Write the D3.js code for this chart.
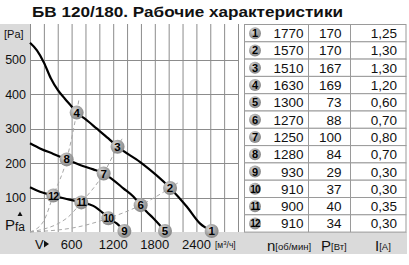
<!DOCTYPE html>
<html><head><meta charset="utf-8">
<script src="https://cdn.jsdelivr.net/npm/d3@7"></script>
<style>
html,body{margin:0;padding:0;background:#fff;}
svg{display:block;font-family:"Liberation Sans",Arial,sans-serif;}
</style></head>
<body>
<svg id="c" width="409" height="265"></svg>
<script>
// ---- data ----
const title = "БВ 120/180. Рабочие характеристики";
const pointIds = [1,2,3,4,5,6,7,8,9,10,11,12];
const pointV = [2620, 2020, 1263, 673, 1947, 1596, 1062, 529, 1361, 1130, 740, 336];
const pointP = [3, 128, 248, 347, 3, 78, 170, 211, 3, 40, 86, 106];
const nRpm = [1770,1570,1510,1630,1300,1270,1250,1280,930,910,900,910];
const powerW = [170,170,167,169,73,88,100,84,29,37,40,34];
const currentA = ["1,25","1,30","1,30","1,20","0,60","0,70","0,80","0,70","0,30","0,30","0,35","0,30"];

const highV = [0,100,200,300,400,500,600,673,800,960,1130,1263,1590,2020,2260,2450,2620];
const highP = [550,528,493,447,413,388,365,347,328,301,272,248,203,128,74,25,3];
const midV = [0,144,337,529,721,913,1062,1202,1346,1490,1596,1683,1779,1947];
const midP = [258,243,227,211,195,182,170,151,127,103,78,59,40,3];
const lowV = [0,144,336,529,740,913,1058,1130,1250,1361];
const lowP = [130,117,106,96,86,76,54,40,25,3];

const sysAV = [0,192,336,529,673,710];
const sysAP = [0,30,106,211,347,390];
const sysBV = [0,529,740,1062,1263,1346];
const sysBP = [0,40,86,170,248,277];
const sysCV = [0,720,1130,1596,2020,2150];
const sysCP = [0,16,40,78,128,145];

const xTicks = [600,1200,1800,2400];
const yTicks = [100,200,300,400,500];
const xGrid = d3.range(0,3001,200);
const yGrid = [100,200,300,400,500];

// ---- layout ----
const svg = d3.select("#c");
const L=30, R=238, T=24, B=232;
const x = d3.scaleLinear().domain([0,3000]).range([L,R]);
const y = d3.scaleLinear().domain([0,604.6]).range([B,T]);

const defs = svg.append("defs");
const g1 = defs.append("radialGradient").attr("id","ball").attr("cx","38%").attr("cy","35%").attr("r","65%");
g1.append("stop").attr("offset","0%").attr("stop-color","#dedede");
g1.append("stop").attr("offset","55%").attr("stop-color","#a6a6a6");
g1.append("stop").attr("offset","100%").attr("stop-color","#8a8a8a");

svg.append("rect").attr("width",409).attr("height",265).attr("fill","#fff");
// gray bands
const gray = "#dadada";
svg.append("rect").attr("x",0).attr("y",T).attr("width",L).attr("height",B-T).attr("fill",gray);
svg.append("rect").attr("x",0).attr("y",B).attr("width",407).attr("height",22).attr("fill",gray);
svg.append("rect").attr("x",L).attr("y",T).attr("width",R-L).attr("height",B-T).attr("fill","#fff");

// title
svg.append("text").attr("x",32).attr("y",17).attr("font-size",14).attr("font-weight","bold").attr("fill","#111")
  .attr("textLength",311).attr("lengthAdjust","spacingAndGlyphs").text(title);

// grid
svg.append("g").selectAll("line").data(xGrid).join("line")
  .attr("x1",d=>x(d)+0.5).attr("x2",d=>x(d)+0.5).attr("y1",T).attr("y2",B)
  .attr("stroke","#8c8c8c").attr("stroke-width",1);
svg.append("g").selectAll("line").data(yGrid).join("line")
  .attr("y1",d=>Math.round(y(d))+0.5).attr("y2",d=>Math.round(y(d))+0.5).attr("x1",L).attr("x2",R)
  .attr("stroke","#8c8c8c").attr("stroke-width",1);

// axis labels
svg.append("g").selectAll("text").data(yTicks).join("text")
  .attr("x",26).attr("y",d=>y(d)+4.5).attr("text-anchor","end").attr("font-size",12.5).attr("fill","#111").text(d=>d);
svg.append("text").attr("x",4).attr("y",38).attr("font-size",11).attr("fill","#111").text("[Pa]");
svg.append("g").selectAll("text").data(xTicks).join("text")
  .attr("x",d=>x(d)).attr("y",249).attr("text-anchor","middle").attr("font-size",13).attr("fill","#111").text(d=>d);
svg.append("text").attr("x",35).attr("y",249).attr("font-size",13).attr("fill","#111").text("V");
svg.append("path").attr("d","M44,240.5 L49,244 L44,247.5 Z").attr("fill","#111");
const mt = svg.append("text").attr("x",215).attr("y",248).attr("font-size",8.5).attr("fill","#111");
mt.append("tspan").text("[м");
mt.append("tspan").attr("font-size",6).attr("dy",-3).text("3");
mt.append("tspan").attr("dy",3).text("/ч]");
const pf = svg.append("text").attr("x",5).attr("y",230).attr("font-size",15).attr("fill","#111");
pf.append("tspan").text("P");
pf.append("tspan").attr("font-size",12).attr("dy",1).text("fa");
svg.append("path").attr("d","M17.5,216 L20,211.5 L22.5,216 Z").attr("fill","#111");

// system curves (dashed)
const line = d3.line().x(d=>x(d[0])).y(d=>y(d[1])).curve(d3.curveMonotoneX);
const sys = [d3.zip(sysAV,sysAP), d3.zip(sysBV,sysBP), d3.zip(sysCV,sysCP)];
svg.append("g").selectAll("path").data(sys).join("path")
  .attr("d",line).attr("fill","none").attr("stroke","#a8a8a8").attr("stroke-width",1).attr("stroke-dasharray","4,3");

// fan curves
const curves = [d3.zip(highV,highP), d3.zip(midV,midP), d3.zip(lowV,lowP)];
svg.append("g").selectAll("path").data(curves).join("path")
  .attr("d",line).attr("fill","none").attr("stroke","#000").attr("stroke-width",2.2).attr("stroke-linejoin","round");

// markers
const pts = pointIds.map((id,i)=>({id, v:pointV[i], p:pointP[i]}));
const mg = svg.append("g").selectAll("g").data(pts).join("g")
  .attr("transform",d=>`translate(${x(d.v)},${y(d.p)})`);
mg.append("circle").attr("r",7).attr("fill","url(#ball)");
mg.append("text").attr("text-anchor","middle").attr("y",4)
  .attr("font-size",d=>d.id>9?10.5:11.5).attr("font-weight","bold").attr("fill","#000")
  .attr("letter-spacing",d=>d.id>9?-0.8:0).text(d=>d.id);

// table
const tL=244, tR=406.5, c1=308.5, c2=350.5, rowH=17.3, tT=24.5;
const tg = svg.append("g");
tg.selectAll("rect.row").data(pointIds).join("rect").attr("class","row")
  .attr("x",tL+0.5).attr("y",(d,i)=>tT+i*rowH).attr("width",tR-tL-1).attr("height",rowH)
  .attr("fill","#fff").attr("stroke","#9a9a9a").attr("stroke-width",1);
[c1,c2].forEach(cx=>tg.append("line").attr("x1",cx).attr("x2",cx).attr("y1",tT).attr("y2",tT+12*rowH).attr("stroke","#9a9a9a"));
const rows = tg.selectAll("g.r").data(pointIds).join("g").attr("class","r")
  .attr("transform",(d,i)=>`translate(0,${tT+i*rowH+rowH/2})`);
rows.append("circle").attr("cx",255).attr("r",6).attr("fill","url(#ball)");
rows.append("text").attr("x",255).attr("y",4).attr("text-anchor","middle")
  .attr("font-size",d=>d>9?10:11).attr("font-weight","bold").attr("letter-spacing",d=>d>9?-0.8:0).text(d=>d);
rows.append("text").attr("x",303.5).attr("y",5).attr("text-anchor","end").attr("font-size",13.5).attr("fill","#111").text((d,i)=>nRpm[i]);
rows.append("text").attr("x",341.5).attr("y",5).attr("text-anchor","end").attr("font-size",13.5).attr("fill","#111").text((d,i)=>powerW[i]);
rows.append("text").attr("x",397).attr("y",5).attr("text-anchor","end").attr("font-size",13.5).attr("fill","#111").text((d,i)=>currentA[i]);

// table header (bottom)
function hdr(xp, big, small){
  const t = svg.append("text").attr("x",xp).attr("y",251).attr("fill","#111");
  t.append("tspan").attr("font-size",15).text(big);
  t.append("tspan").attr("font-size",9.5).attr("dy",-1).text(small);
}
hdr(267,"n","[об/мин]");
hdr(321,"P","[Вт]");
hdr(375,"I","[A]");
</script>
</body></html>
